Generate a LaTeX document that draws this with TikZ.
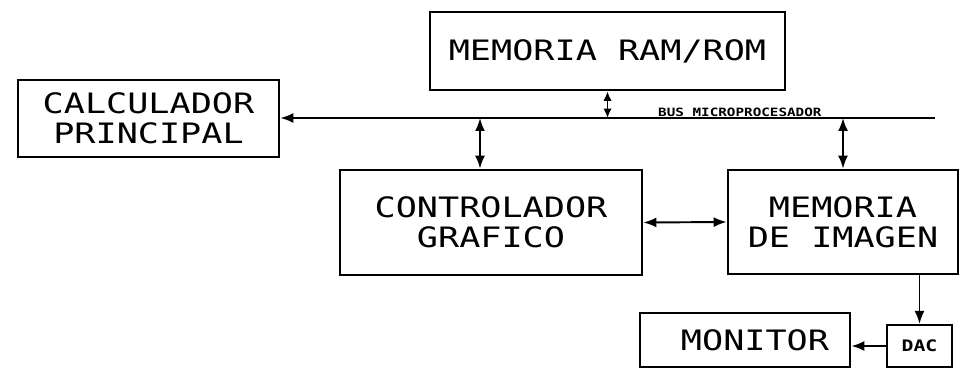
\documentclass[tikz,border=0pt]{standalone}
\usepackage{fontspec}
\usepackage{tikz}
\usetikzlibrary{arrows.meta,positioning,calc}
\newfontfamily\plotfont[FakeStretch=1.25]{DejaVu Sans Mono}

\begin{document}
\begin{tikzpicture}[
  x=0.02cm, y=-0.02cm,
  box/.style={draw, line width=1.6pt, align=center, inner sep=0pt, font=\plotfont\fontsize{16}{17}\selectfont},
  smallbox/.style={draw, line width=1.2pt, align=center, inner sep=0pt, font=\plotfont\bfseries\fontsize{9}{10}\selectfont},
  biline/.style={{Latex[length=2.6mm,width=2mm]}-{Latex[length=2.6mm,width=2mm]}, line width=1.1pt},
  arrline/.style={-{Latex[length=2.6mm,width=2mm]}, line width=1.1pt}
]
\useasboundingbox (0,0) rectangle (962,368);

\node[box, minimum width=7.1cm, minimum height=1.56cm] (ram) at (607.5,51) {MEMORIA RAM/ROM};
\node[box, minimum width=5.22cm, minimum height=1.54cm] (calc) at (148.5,118.5) {CALCULADOR\\PRINCIPAL};
\node[box, minimum width=6.04cm, minimum height=2.1cm] (ctrl) at (491,222.5) {CONTROLADOR\\GRAFICO};
\node[box, minimum width=4.6cm, minimum height=2.08cm] (mimg) at (843,222) {MEMORIA\\DE IMAGEN};
\node[box, minimum width=4.2cm, minimum height=1.08cm] (monitor) at (745,340) {\hspace{4mm}MONITOR};
\node[smallbox, minimum width=1.3cm, minimum height=0.84cm] (dac) at (919.5,346) {DAC};

\coordinate (busend) at (935,118);
\coordinate (busctrl) at (480,118);
\node[anchor=south west, inner sep=0.5pt, font=\plotfont\bfseries\fontsize{6.5}{7}\selectfont] (buslabel) at (657,118) {BUS MICROPROCESADOR};

\draw[arrline] (busend) -- (calc.east |- busend);
\draw[{Latex[length=1.9mm,width=1.7mm]}-{Latex[length=1.9mm,width=1.7mm]}, line width=1.1pt] (ram.south) -- (ram.south |- busend);
\draw[biline] (busctrl) -- (busctrl |- ctrl.north);
\draw[biline] (mimg.north |- busend) -- (mimg.north);
\draw[biline] (ctrl.east) -- (mimg.west);
\draw[arrline] (dac.north |- mimg.south) -- (dac.north);
\draw[arrline] (dac.west) -- (dac.west -| monitor.east);
\end{tikzpicture}
\end{document}
